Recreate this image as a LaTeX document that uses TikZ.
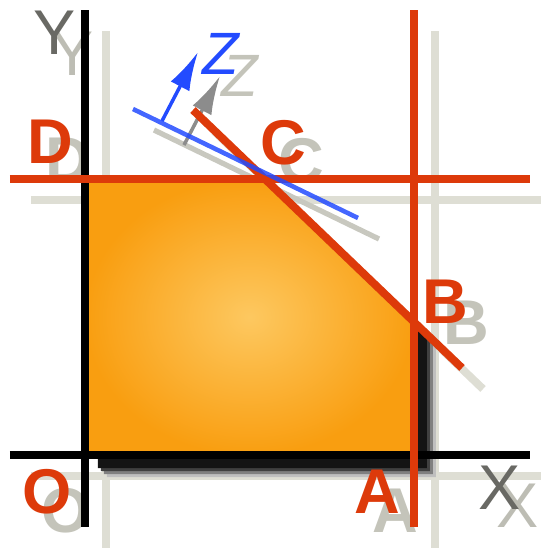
\documentclass[tikz,border=0pt]{standalone}
\usepackage{fontspec}
\setmainfont{Liberation Sans}
\usetikzlibrary{arrows.meta,calc}

\definecolor{limred}{RGB}{221,58,10}
\definecolor{normblue}{RGB}{35,75,255}
\definecolor{ghostgray}{RGB}{222,222,212}
\definecolor{lettergray}{RGB}{196,196,186}
\definecolor{axisgray}{RGB}{105,105,100}
\definecolor{regionlight}{RGB}{253,200,96}
\definecolor{regiondark}{RGB}{249,158,16}

\begin{document}
\begin{tikzpicture}[x=0.02cm,y=-0.02cm,line cap=butt,line join=miter,
  axisline/.style={line width=4.5pt,black},
  limline/.style={line width=4.5pt,limred},
  ghostline/.style={line width=4.5pt,ghostgray},
  ptlabel/.style={font=\fontsize{36}{36}\selectfont\bfseries,text=limred,inner sep=0pt},
  ptghost/.style={font=\fontsize{36}{36}\selectfont\bfseries,text=lettergray,inner sep=0pt},
  axlabel/.style={font=\fontsize{36}{36}\selectfont,text=axisgray,inner sep=0pt},
  axghost/.style={font=\fontsize{36}{36}\selectfont,text=ghostgray!85!black,inner sep=0pt}]
\path[use as bounding box] (0,0) rectangle (541,549);
% corners of the region
\coordinate (O) at (85,455);
\coordinate (A) at (414,455);
\coordinate (B) at (414,322);
\coordinate (C) at (265,179);
\coordinate (D) at (85,179);
% line ends
\coordinate (ytop) at (85,10);
\coordinate (ybot) at (85,527);
\coordinate (xlft) at (10,455);
\coordinate (xrgt) at (530,455);
\coordinate (hlft) at (10,179);
\coordinate (hrgt) at (530,179);
\coordinate (vtop) at (414,10);
\coordinate (vbot) at (414,527);
\coordinate (dtop) at (193,110);
\coordinate (dbot) at (462,368);
\coordinate (blft) at (133,109);
\coordinate (brgt) at (358,218);
\coordinate (zbase) at (162,121);
\coordinate (ztip) at (198,52);
% shadows of the lines
\draw[ghostline] ($(ytop)+(21,21)$) -- ($(ybot)+(21,21)$);
\draw[ghostline] ($(xlft)+(21,21)$) -- ($(xrgt)+(21,21)$);
\draw[ghostline] ($(hlft)+(21,21)$) -- ($(hrgt)+(21,21)$);
\draw[ghostline] ($(vtop)+(21,21)$) -- ($(vbot)+(21,21)$);
\draw[ghostline] ($(dtop)+(21,21)$) -- ($(dbot)+(21,21)$);
\draw[line width=3pt,ghostgray!90!black] ($(blft)+(21,21)$) -- ($(brgt)+(21,21)$);
\draw[line width=2pt,black!45,-{Latex[length=22pt,width=12pt]}] ($(zbase)+(22,24)$) -- ($(ztip)+(22,24)$);
% shadows of the letters
\node[ptghost] (Dg) at (68,160) {D};
\node[ptghost] (Cg) at (301,161) {C};
\node[ptghost] (Bg) at (466,323) {B};
\node[ptghost] (Ag) at (395,511) {A};
\node[ptghost] (Og) at (66,511) {O};
\node[axghost] (Yg) at (73,54) {Y};
\node[axghost] (Xg) at (518,506) {X};
\node[font=\fontsize{34}{34}\selectfont\itshape,text=lettergray,inner sep=0pt] (Zg) at (240,76) {Z};
% drop shadow of the region
\foreach \d/\c in {22/black!25,19/black!50,16/black!75,13/black!92}{
  \fill[\c] ($(O)+(\d,\d)$) -- ($(A)+(\d,\d)$) -- ($(B)+(\d,\d)$) -- ($(C)+(\d,\d)$) -- ($(D)+(\d,\d)$) -- cycle;
}
% region
\shade[inner color=regionlight,outer color=regiondark,draw=orange!85!black,line width=1.2pt] (O) -- (A) -- (B) -- (C) -- (D) -- cycle;
% axes
\draw[axisline] (ytop) -- (ybot);
\draw[axisline] (xlft) -- (xrgt);
% limit lines
\draw[limline] (hlft) -- (hrgt);
\draw[limline] (vtop) -- (vbot);
\draw[limline] (dtop) -- (dbot);
% level line and its normal
\draw[line width=2.6pt,normblue,opacity=.85] (blft) -- (brgt);
\draw[line width=2pt,normblue,-{Latex[length=22pt,width=12pt]}] (zbase) -- (ztip);
% letters
\node[ptlabel] (lblD) at (50,142) {D};
\node[ptlabel] (lblC) at (283,143) {C};
\node[ptlabel] (lblB) at (445,302) {B};
\node[ptlabel] (lblA) at (377,492) {A};
\node[ptlabel] (lblO) at (47,492) {O};
\node[axlabel] (lblY) at (55,33) {Y};
\node[axlabel] (lblX) at (500,488) {X};
\node[font=\fontsize{34}{34}\selectfont\itshape,text=normblue,inner sep=0pt] (lblZ) at (221,54) {Z};
\end{tikzpicture}
\end{document}
